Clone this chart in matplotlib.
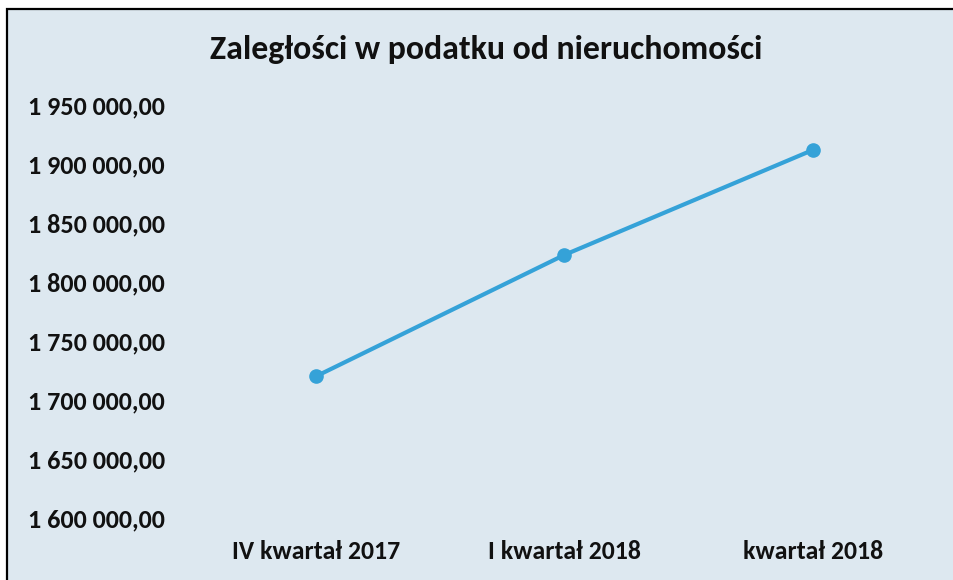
import matplotlib.pyplot as plt
from matplotlib.patches import Rectangle

# data
quarters = ['IV kwartał 2017', 'I kwartał 2018', 'kwartał 2018']
arrears = [1720000, 1823000, 1912000]
y_ticks = [1600000, 1650000, 1700000, 1750000, 1800000, 1850000, 1900000, 1950000]
y_labels = ['1 600 000,00', '1 650 000,00', '1 700 000,00', '1 750 000,00',
            '1 800 000,00', '1 850 000,00', '1 900 000,00', '1 950 000,00']

plt.rcParams['font.family'] = ['Carlito', 'Liberation Sans Narrow', 'DejaVu Sans']
bg = '#dde8f0'

fig = plt.figure(figsize=(9.54, 5.80), dpi=100)
fig.patch.set_facecolor('white')

# chart frame (scanned, runs off the right and bottom edges)
frame = Rectangle((7 / 954, -0.05), 1.0, 1.05 - 9 / 580, transform=fig.transFigure,
                  facecolor=bg, edgecolor='black', linewidth=1.6, zorder=-5)
fig.patches.append(frame)

ax = fig.add_axes([191.5 / 954, 1 - 518 / 580, 746 / 954, 413 / 580])
ax.patch.set_visible(False)

ax.plot(range(len(quarters)), arrears, color='#35a2d8', linewidth=3,
        marker='o', markersize=9.5, solid_capstyle='round')

ax.set_xlim(-0.5, len(quarters) - 0.5)
ax.set_ylim(1600000, 1950000)
ax.set_xticks(range(len(quarters)))
ax.set_xticklabels(quarters, fontsize=18.5, fontweight='bold', color='#111111')
ax.set_yticks(y_ticks)
ax.set_yticklabels(y_labels, fontsize=18.8, fontweight='bold', color='#111111')
ax.tick_params(axis='both', length=0)
ax.tick_params(axis='y', pad=19)
ax.tick_params(axis='x', pad=16)
for s in ax.spines.values():
    s.set_visible(False)

fig.text(486 / 954, 1 - 50 / 580, 'Zaległości w podatku od nieruchomości',
         ha='center', va='center', fontsize=24.4, fontweight='bold', color='#111111')

fig.savefig('out.png', dpi=100)
